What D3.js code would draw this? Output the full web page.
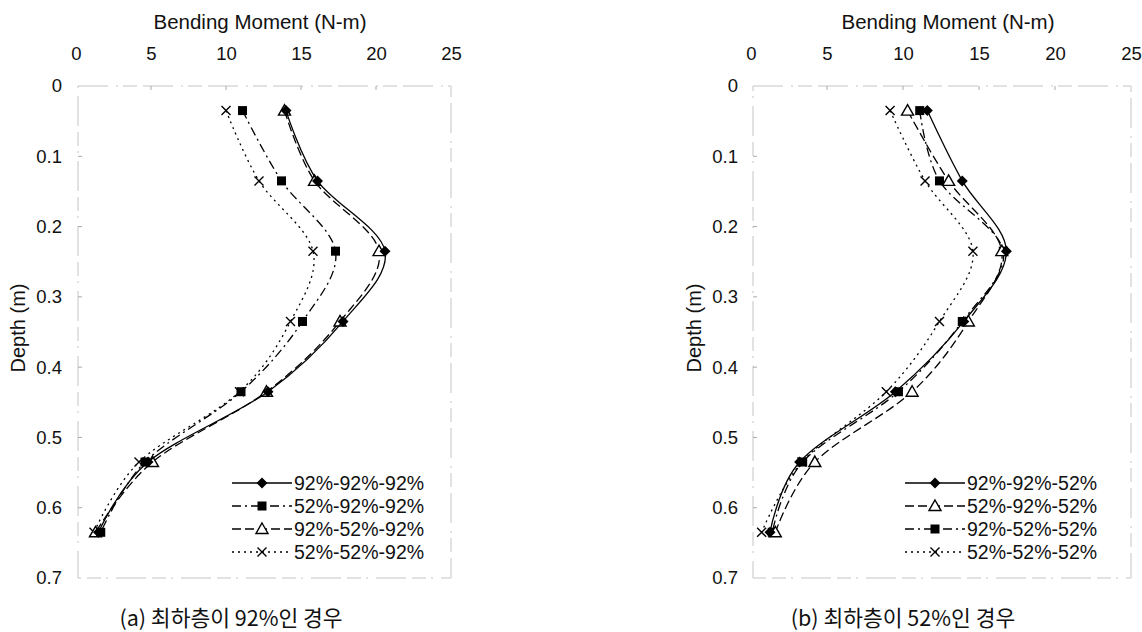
<!DOCTYPE html>
<html>
<head>
<meta charset="utf-8">
<script src="https://cdn.jsdelivr.net/npm/d3@7"></script>
<style>
  html, body { margin: 0; padding: 0; background: #fff; }
  svg text { font-family: "Liberation Sans", Arial, sans-serif; fill: #111; }
  svg text.caption { font-family: "Noto Sans CJK KR", sans-serif; }
</style>
</head>
<body>
<svg id="chart" width="1142" height="632"></svg>
<script>
// Measurement depths (m)
const depths = [0.035, 0.135, 0.235, 0.335, 0.435, 0.535, 0.635];
const momentTicks = [0, 5, 10, 15, 20, 25];
const depthTicks = [0, 0.1, 0.2, 0.3, 0.4, 0.5, 0.6, 0.7];

// Panel (a): bottom layer 92%
const a_92_92_92 = [14.0, 16.1, 20.6, 17.8, 12.8, 4.8, 1.5];
const a_52_92_92 = [11.1, 13.7, 17.3, 15.1, 11.0, 4.6, 1.65];
const a_92_52_92 = [13.9, 15.9, 20.2, 17.6, 12.7, 5.1, 1.3];
const a_52_52_92 = [10.0, 12.2, 15.8, 14.3, 10.9, 4.2, 1.2];

// Panel (b): bottom layer 52%
const b_92_92_52 = [11.6, 13.9, 16.8, 14.0, 9.5, 3.2, 1.25];
const b_52_92_52 = [10.3, 13.0, 16.5, 14.3, 10.6, 4.2, 1.6];
const b_92_52_52 = [11.1, 12.4, 16.6, 13.9, 9.7, 3.4, 1.4];
const b_52_52_52 = [9.15, 11.45, 14.6, 12.4, 8.9, 3.35, 0.7];

const DASH = {
  solid: null,
  dash: "9 4",
  dashdot: "9 4 2 4",
  dot: "2 4"
};

const panels = [
  {
    x0: 76, x1: 451, y0: 86, y1: 578, ylab: 62, dlab: 18, titleX: 260, capX: 231,
    caption: "(a) 최하층이 92%인 경우",
    series: [
      { name: "92%-92%-92%", values: a_92_92_92, marker: "diamond", dash: "solid" },
      { name: "52%-92%-92%", values: a_52_92_92, marker: "square", dash: "dashdot" },
      { name: "92%-52%-92%", values: a_92_52_92, marker: "triangle", dash: "dash" },
      { name: "52%-52%-92%", values: a_52_52_92, marker: "cross", dash: "dot" }
    ],
    legend: { lx0: 232, lx1: 292, ty: 483 }
  },
  {
    x0: 751, x1: 1131, y0: 86, y1: 578, ylab: 738, dlab: 694, titleX: 948, capX: 903,
    caption: "(b) 최하층이 52%인 경우",
    series: [
      { name: "92%-92%-52%", values: b_92_92_52, marker: "diamond", dash: "solid" },
      { name: "52%-92%-52%", values: b_52_92_52, marker: "triangle", dash: "dash" },
      { name: "92%-52%-52%", values: b_92_52_52, marker: "square", dash: "dashdot" },
      { name: "52%-52%-52%", values: b_52_52_52, marker: "cross", dash: "dot" }
    ],
    legend: { lx0: 905, lx1: 965, ty: 483 }
  }
];

const svg = d3.select("#chart");
svg.append("rect").attr("width", 1142).attr("height", 632).attr("fill", "#fff");

function drawMarker(g, type, cx, cy) {
  if (type === "diamond") {
    const r = 5.5;
    g.append("path")
      .attr("d", `M${cx},${cy - r}L${cx + r},${cy}L${cx},${cy + r}L${cx - r},${cy}Z`)
      .attr("fill", "#000");
  } else if (type === "square") {
    const s = 9;
    g.append("rect").attr("x", cx - s / 2).attr("y", cy - s / 2)
      .attr("width", s).attr("height", s).attr("fill", "#000");
  } else if (type === "triangle") {
    const r = 6;
    g.append("path")
      .attr("d", `M${cx},${cy - r}L${cx + r},${cy + r * 0.75}L${cx - r},${cy + r * 0.75}Z`)
      .attr("fill", "#fff").attr("stroke", "#000").attr("stroke-width", 1.4);
  } else if (type === "cross") {
    const r = 4.5;
    g.append("path")
      .attr("d", `M${cx - r},${cy - r}L${cx + r},${cy + r}M${cx - r},${cy + r}L${cx + r},${cy - r}`)
      .attr("stroke", "#000").attr("stroke-width", 1.4).attr("fill", "none");
  }
}

const FS = 18.5;

panels.forEach(p => {
  const x = d3.scaleLinear().domain([0, 25]).range([p.x0, p.x1]);
  const y = d3.scaleLinear().domain([0, 0.7]).range([p.y0, p.y1]);
  const g = svg.append("g");

  // plot frame (faint)
  g.append("rect")
    .attr("x", p.x0 + 2).attr("y", p.y0).attr("width", p.x1 - p.x0 - 2).attr("height", p.y1 - p.y0)
    .attr("fill", "none").attr("stroke", "#c4c4c4").attr("stroke-width", 1)
    .attr("stroke-dasharray", "30 8 2 5 14 6");

  // top axis
  const xAxis = d3.axisTop(x).tickValues(momentTicks).tickSize(0).tickPadding(0).tickFormat(d3.format("d"));
  const gx = g.append("g").attr("transform", `translate(0,60)`).call(xAxis);
  gx.select(".domain").remove();
  gx.selectAll("text").attr("font-size", FS).attr("font-family", "Liberation Sans, Arial, sans-serif")
    .attr("fill", "#111").attr("dy", 0);

  // left axis
  const yAxis = d3.axisLeft(y).tickValues(depthTicks).tickSize(0).tickPadding(0)
    .tickFormat(d => d === 0 ? "0" : d3.format(".1f")(d));
  const gy = g.append("g").attr("transform", `translate(${p.ylab},0)`).call(yAxis);
  gy.select(".domain").remove();
  gy.selectAll("text").attr("font-size", FS).attr("font-family", "Liberation Sans, Arial, sans-serif").attr("fill", "#111");

  // small inward ticks
  g.selectAll(".yt").data(depthTicks.slice(1, -1)).join("line")
    .attr("x1", p.x0 + 2).attr("x2", p.x0 + 6)
    .attr("y1", d => y(d)).attr("y2", d => y(d))
    .attr("stroke", "#aaa").attr("stroke-width", 1);
  g.selectAll(".xt").data(momentTicks.slice(1, -1)).join("line")
    .attr("x1", d => x(d)).attr("x2", d => x(d))
    .attr("y1", p.y0).attr("y2", p.y0 + 4)
    .attr("stroke", "#aaa").attr("stroke-width", 1);

  // titles
  g.append("text").attr("x", p.titleX).attr("y", 29)
    .attr("text-anchor", "middle").attr("font-size", 20.5).text("Bending Moment (N-m)");
  g.append("text")
    .attr("transform", `translate(${p.dlab + 7},${(p.y0 + p.y1) / 2 - 4}) rotate(-90)`)
    .attr("text-anchor", "middle").attr("font-size", 20).text("Depth (m)");
  g.append("text").attr("class", "caption")
    .attr("x", p.capX).attr("y", 626)
    .attr("text-anchor", "middle").attr("font-size", 21.5).text(p.caption);

  const line = d3.line()
    .x(d => x(d[0])).y(d => y(d[1]))
    .curve(d3.curveCardinal.tension(0));

  // series lines (drawn in reverse so the solid line sits on top)
  [...p.series].reverse().forEach(s => {
    const pts = s.values.map((v, i) => [v, depths[i]]);
    g.append("path").datum(pts)
      .attr("d", line)
      .attr("fill", "none").attr("stroke", "#000").attr("stroke-width", 1.3)
      .attr("stroke-dasharray", DASH[s.dash]);
    pts.forEach(pt => drawMarker(g, s.marker, x(pt[0]), y(pt[1])));
  });

  // legend
  p.series.forEach((s, i) => {
    const ly = p.legend.ty + i * 23;
    g.append("line")
      .attr("x1", p.legend.lx0).attr("x2", p.legend.lx1)
      .attr("y1", ly).attr("y2", ly)
      .attr("stroke", "#000").attr("stroke-width", 1.3)
      .attr("stroke-dasharray", DASH[s.dash]);
    drawMarker(g, s.marker, (p.legend.lx0 + p.legend.lx1) / 2, ly);
    g.append("text").attr("x", p.legend.lx1 + 2).attr("y", ly + 7)
      .attr("font-size", 19.5).text(s.name);
  });
});
</script>
</body>
</html>
